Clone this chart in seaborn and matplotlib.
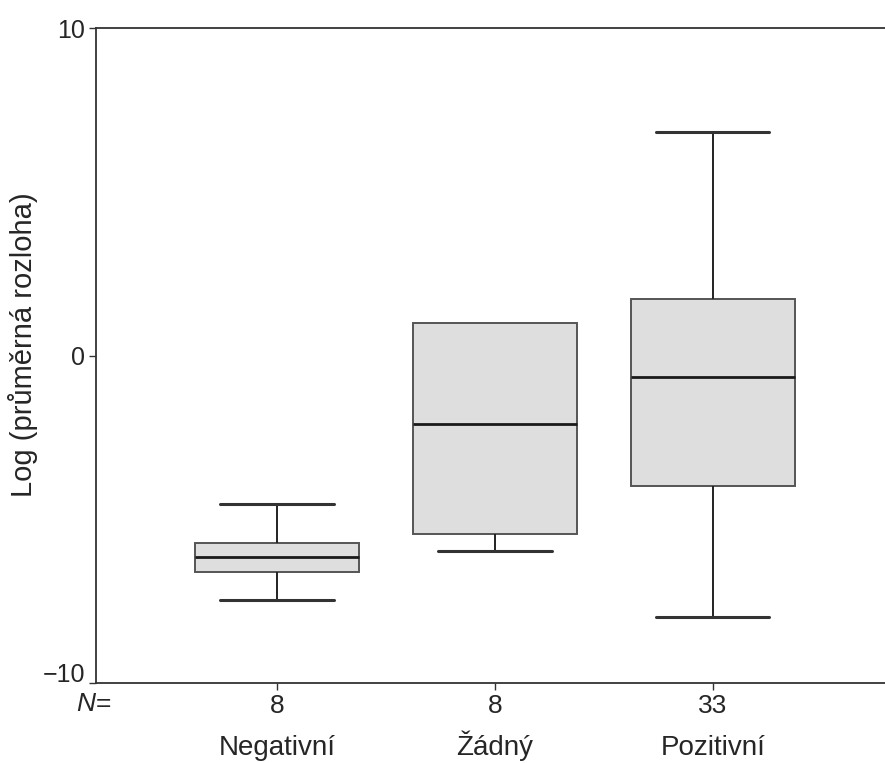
import numpy as np
import pandas as pd
import matplotlib
matplotlib.use('Agg')
import matplotlib.pyplot as plt
import matplotlib.transforms as mtransforms
import seaborn as sns

# Categories and sample sizes
groups = ['Negativní', 'Žádný', 'Pozitivní']
counts = [8, 8, 33]

# Box statistics: min, Q1, median, Q3, max
neg_stats = [-7.47, -6.61, -6.15, -5.73, -4.53]
zad_stats = [-5.97, -5.45, -2.09, 0.99, 0.99]
poz_stats = [-7.98, -3.98, -0.66, 1.73, 6.82]

y_ticks = [-10, 0, 10]

# Long table for seaborn (5 values per group -> quartiles land on them)
df = pd.DataFrame({
    'skupina': np.repeat(groups, 5),
    'hodnota': neg_stats + zad_stats + poz_stats,
})

sns.set_style('ticks')
plt.rcParams['font.family'] = ['Liberation Sans', 'DejaVu Sans']

fig = plt.figure(figsize=(8.85, 7.63), dpi=100)
ax = fig.add_axes([96 / 885, 1 - 683 / 763, 1 - 96 / 885, (683 - 28) / 763])

sns.boxplot(
    data=df, x='skupina', y='hodnota', order=groups, ax=ax,
    whis=(0, 100), width=0.75, color='#dedede', linecolor='#222222',
    linewidth=1.4, capwidths=0.52, saturation=1,
    boxprops=dict(edgecolor='#555555', linewidth=1.4),
    medianprops=dict(color='#1a1a1a', linewidth=2.0),
    whiskerprops=dict(color='#222222', linewidth=1.4),
    capprops=dict(color='#333333', linewidth=2.2),
)

# Žádný has no upper whisker: hide the cap that sits on the box top
for ln in ax.lines:
    xs, ys = np.asarray(ln.get_xdata()), np.asarray(ln.get_ydata())
    if len(ys) == 2 and np.allclose(ys, zad_stats[4]) and abs(xs.mean() - 1) < 0.01 \
            and abs(xs[1] - xs[0]) < 0.6:
        ln.set_visible(False)

ax.set_xlim(-0.83, 2.79)
ax.set_ylim(-10, 10)
ax.set_yticks(y_ticks)
ax.set_yticklabels(['\u221210', '0', '10'])
ax.set_xticks(range(len(groups)))
ax.set_xticklabels([str(n) for n in counts])
ax.tick_params(axis='y', labelsize=18, length=5, width=1, color='#333333', pad=3)
ax.tick_params(axis='x', labelsize=19, length=5, width=1, color='#333333', pad=3)
ax.set_xlabel('')
ax.set_ylabel('Log (průměrná rozloha)', fontsize=21)
ax.yaxis.set_label_coords(-0.073, 0.516)

# lift the -10 label a bit so it clears the N= row
low = ax.get_yticklabels()[0]
low.set_transform(low.get_transform() +
                  mtransforms.ScaledTranslation(0, 11 / 100, fig.dpi_scale_trans))

for side in ['left', 'bottom', 'top']:
    ax.spines[side].set_color('#333333')
    ax.spines[side].set_linewidth(1.3)
ax.spines['right'].set_visible(False)

# category names under the counts
for i, name in enumerate(groups):
    ax.annotate(name, xy=(i, 0), xycoords=('data', 'axes fraction'),
                xytext=(0, -72), textcoords='offset pixels',
                ha='center', va='baseline', fontsize=20)

# "N=" row label
fig.text(76 / 885, 1 - 711 / 763, 'N', fontsize=19, style='italic', va='baseline')
fig.text(96 / 885, 1 - 711 / 763, '=', fontsize=19, va='baseline')

fig.savefig('out.png', dpi=100)
